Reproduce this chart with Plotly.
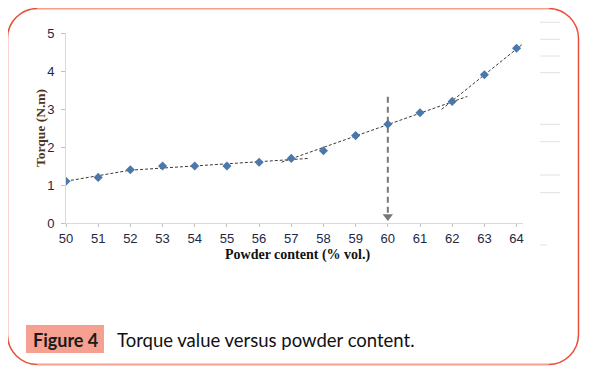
import plotly.graph_objects as go

# ---- data ----
powder = [50, 51, 52, 53, 54, 55, 56, 57, 58, 59, 60, 61, 62, 63, 64]
torque = [1.1, 1.2, 1.4, 1.5, 1.5, 1.5, 1.6, 1.7, 1.9, 2.3, 2.6, 2.9, 3.2, 3.9, 4.6]

trend1_x = [50, 52, 57.55]
trend1_y = [1.1, 1.39, 1.70]
trend2_x = [56.7, 62.47]
trend2_y = [1.60, 3.33]
trend3_x = [61.67, 64.22]
trend3_y = [2.99, 4.73]

marker_x = 60
arrow_y = [3.32, 0.26]
arrow_head_y = 0.17

x_ticks = list(range(50, 65))
y_ticks = [0, 1, 2, 3, 4, 5]

# ---- layout geometry (page pixels; body has an 8px default margin) ----
OFF = 8
PAGE_W, PAGE_H = 589, 370
W, H = PAGE_W - OFF, PAGE_H - OFF
PLOT_L, PLOT_R, PLOT_T, PLOT_B = 66, 523, 33, 223   # page pixels of the plot area
L = PLOT_L - OFF
T = PLOT_T - OFF
R = W - (PLOT_R - OFF)
B = H - (PLOT_B - OFF)
PW = PLOT_R - PLOT_L
PH = PLOT_B - PLOT_T


def px(x, y):
    return (x - PLOT_L) / PW, (PLOT_B - y) / PH


fig = go.Figure()

dash_style = dict(color="#3a3a3a", width=1, dash="3px,2px")
for tx, ty in [(trend1_x, trend1_y), (trend2_x, trend2_y), (trend3_x, trend3_y)]:
    fig.add_trace(go.Scatter(x=tx, y=ty, mode="lines", line=dash_style,
                             hoverinfo="skip", showlegend=False))

# vertical dashed arrow
fig.add_trace(go.Scatter(x=[marker_x, marker_x], y=arrow_y, mode="lines",
                         line=dict(color="#777777", width=2, dash="6px,4px"),
                         hoverinfo="skip", showlegend=False))
fig.add_trace(go.Scatter(x=[marker_x], y=[arrow_head_y], mode="markers",
                         marker=dict(symbol="triangle-down", size=9, color="#777777"),
                         hoverinfo="skip", showlegend=False))

fig.add_trace(go.Scatter(x=powder, y=torque, mode="markers",
                         marker=dict(symbol="diamond", size=7, color="#4a78ad",
                                     line=dict(width=0)),
                         showlegend=False))

shapes = []
# rounded border: top / bottom salmon, sides red
salmon = "#f4a08c"
red = "#e8503a"
x0, x1, y0, y1, r = 7.5, 578.5, 8.5, 364.5, 30
k = r * 0.552


def pt(x, y):
    a, b = px(x, y)
    return f"{a:.5f},{b:.5f}"


shapes.append(dict(type="path", xref="paper", yref="paper",
                   path=f"M {pt(x0 + r, y0)} L {pt(x1 - r, y0)}",
                   line=dict(color=salmon, width=2)))
shapes.append(dict(type="path", xref="paper", yref="paper",
                   path=f"M {pt(x0 + r, y1)} L {pt(x1 - r, y1)}",
                   line=dict(color=salmon, width=2)))
shapes.append(dict(type="path", xref="paper", yref="paper",
                   path=(f"M {pt(x0 + r, y0)} C {pt(x0 + r - k, y0)} {pt(x0, y0 + r - k)} {pt(x0, y0 + r)} "
                         f"L {pt(x0, y1 - r)} C {pt(x0, y1 - r + k)} {pt(x0 + r - k, y1)} {pt(x0 + r, y1)}"),
                   line=dict(color=red, width=1.5)))
shapes.append(dict(type="path", xref="paper", yref="paper",
                   path=(f"M {pt(x1 - r, y0)} C {pt(x1 - r + k, y0)} {pt(x1, y0 + r - k)} {pt(x1, y0 + r)} "
                         f"L {pt(x1, y1 - r)} C {pt(x1, y1 - r + k)} {pt(x1 - r + k, y1)} {pt(x1 - r, y1)}"),
                   line=dict(color=red, width=1.5)))

# faint decorative lines at the right
for yy in [22.3, 39.3, 56, 72.7, 124.3, 141.7, 175, 192.7]:
    a0, b0 = px(540, yy)
    a1, _ = px(560, yy)
    shapes.append(dict(type="line", xref="paper", yref="paper", x0=a0, x1=a1, y0=b0, y1=b0,
                       line=dict(color="#e2e2e2", width=1)))
a0, b0 = px(540, 245)
a1, _ = px(547, 245)
shapes.append(dict(type="line", xref="paper", yref="paper", x0=a0, x1=a1, y0=b0, y1=b0,
                   line=dict(color="#e2e2e2", width=1)))

# caption box
cx0, cy0 = px(26, 325)
cx1, cy1 = px(104, 353)
shapes.append(dict(type="rect", xref="paper", yref="paper", x0=cx0, x1=cx1, y0=cy1, y1=cy0,
                   fillcolor="#f5a090", line=dict(width=0)))

annotations = []
ax_, ay_ = px(297.7, 255)
annotations.append(dict(text="<b>Powder content (% vol.)</b>", xref="paper", yref="paper",
                        x=ax_, y=ay_, showarrow=False, xanchor="center", yanchor="middle",
                        font=dict(family="Liberation Serif", size=14, color="#111111")))
bx_, by_ = px(40, 128)
annotations.append(dict(text="<b>Torque (N.m)</b>", xref="paper", yref="paper",
                        x=bx_, y=by_, showarrow=False, textangle=-90,
                        xanchor="center", yanchor="middle",
                        font=dict(family="Liberation Serif", size=13.5, color="#4d3520")))
fx, fy = px(65, 339.5)
annotations.append(dict(text="<b>Figure 4</b>", xref="paper", yref="paper",
                        x=fx, y=fy, showarrow=False, xanchor="center", yanchor="middle",
                        font=dict(family="Lato", size=18, color="#1a1a1a")))
gx, gy = px(115, 339.5)
annotations.append(dict(text="Torque value versus powder content.", xref="paper", yref="paper",
                        x=gx, y=gy, showarrow=False, xanchor="left", yanchor="middle",
                        font=dict(family="Lato", size=18.5, color="#111111")))

tick_font = dict(family="Liberation Sans", size=13, color="#1c2845")
fig.update_layout(
    width=W, height=H,
    margin=dict(l=L, r=R, t=T, b=B, pad=0),
    paper_bgcolor="white", plot_bgcolor="white",
    shapes=shapes, annotations=annotations,
    xaxis=dict(range=[50, 64.2], tickvals=x_ticks, ticktext=[str(v) for v in x_ticks],
               showgrid=False, zeroline=False, showline=True, linecolor="#d9d9d9",
               linewidth=1, ticks="outside", ticklen=3, tickcolor="#bfbfbf",
               tickfont=tick_font),
    yaxis=dict(range=[0, 5], tickvals=y_ticks, showgrid=False, zeroline=False,
               showline=True, linecolor="#d9d9d9", linewidth=1, ticks="outside",
               ticklen=4, tickcolor="#bfbfbf", tickfont=tick_font, ticklabelstandoff=4),
)

fig.write_html("out.html")
